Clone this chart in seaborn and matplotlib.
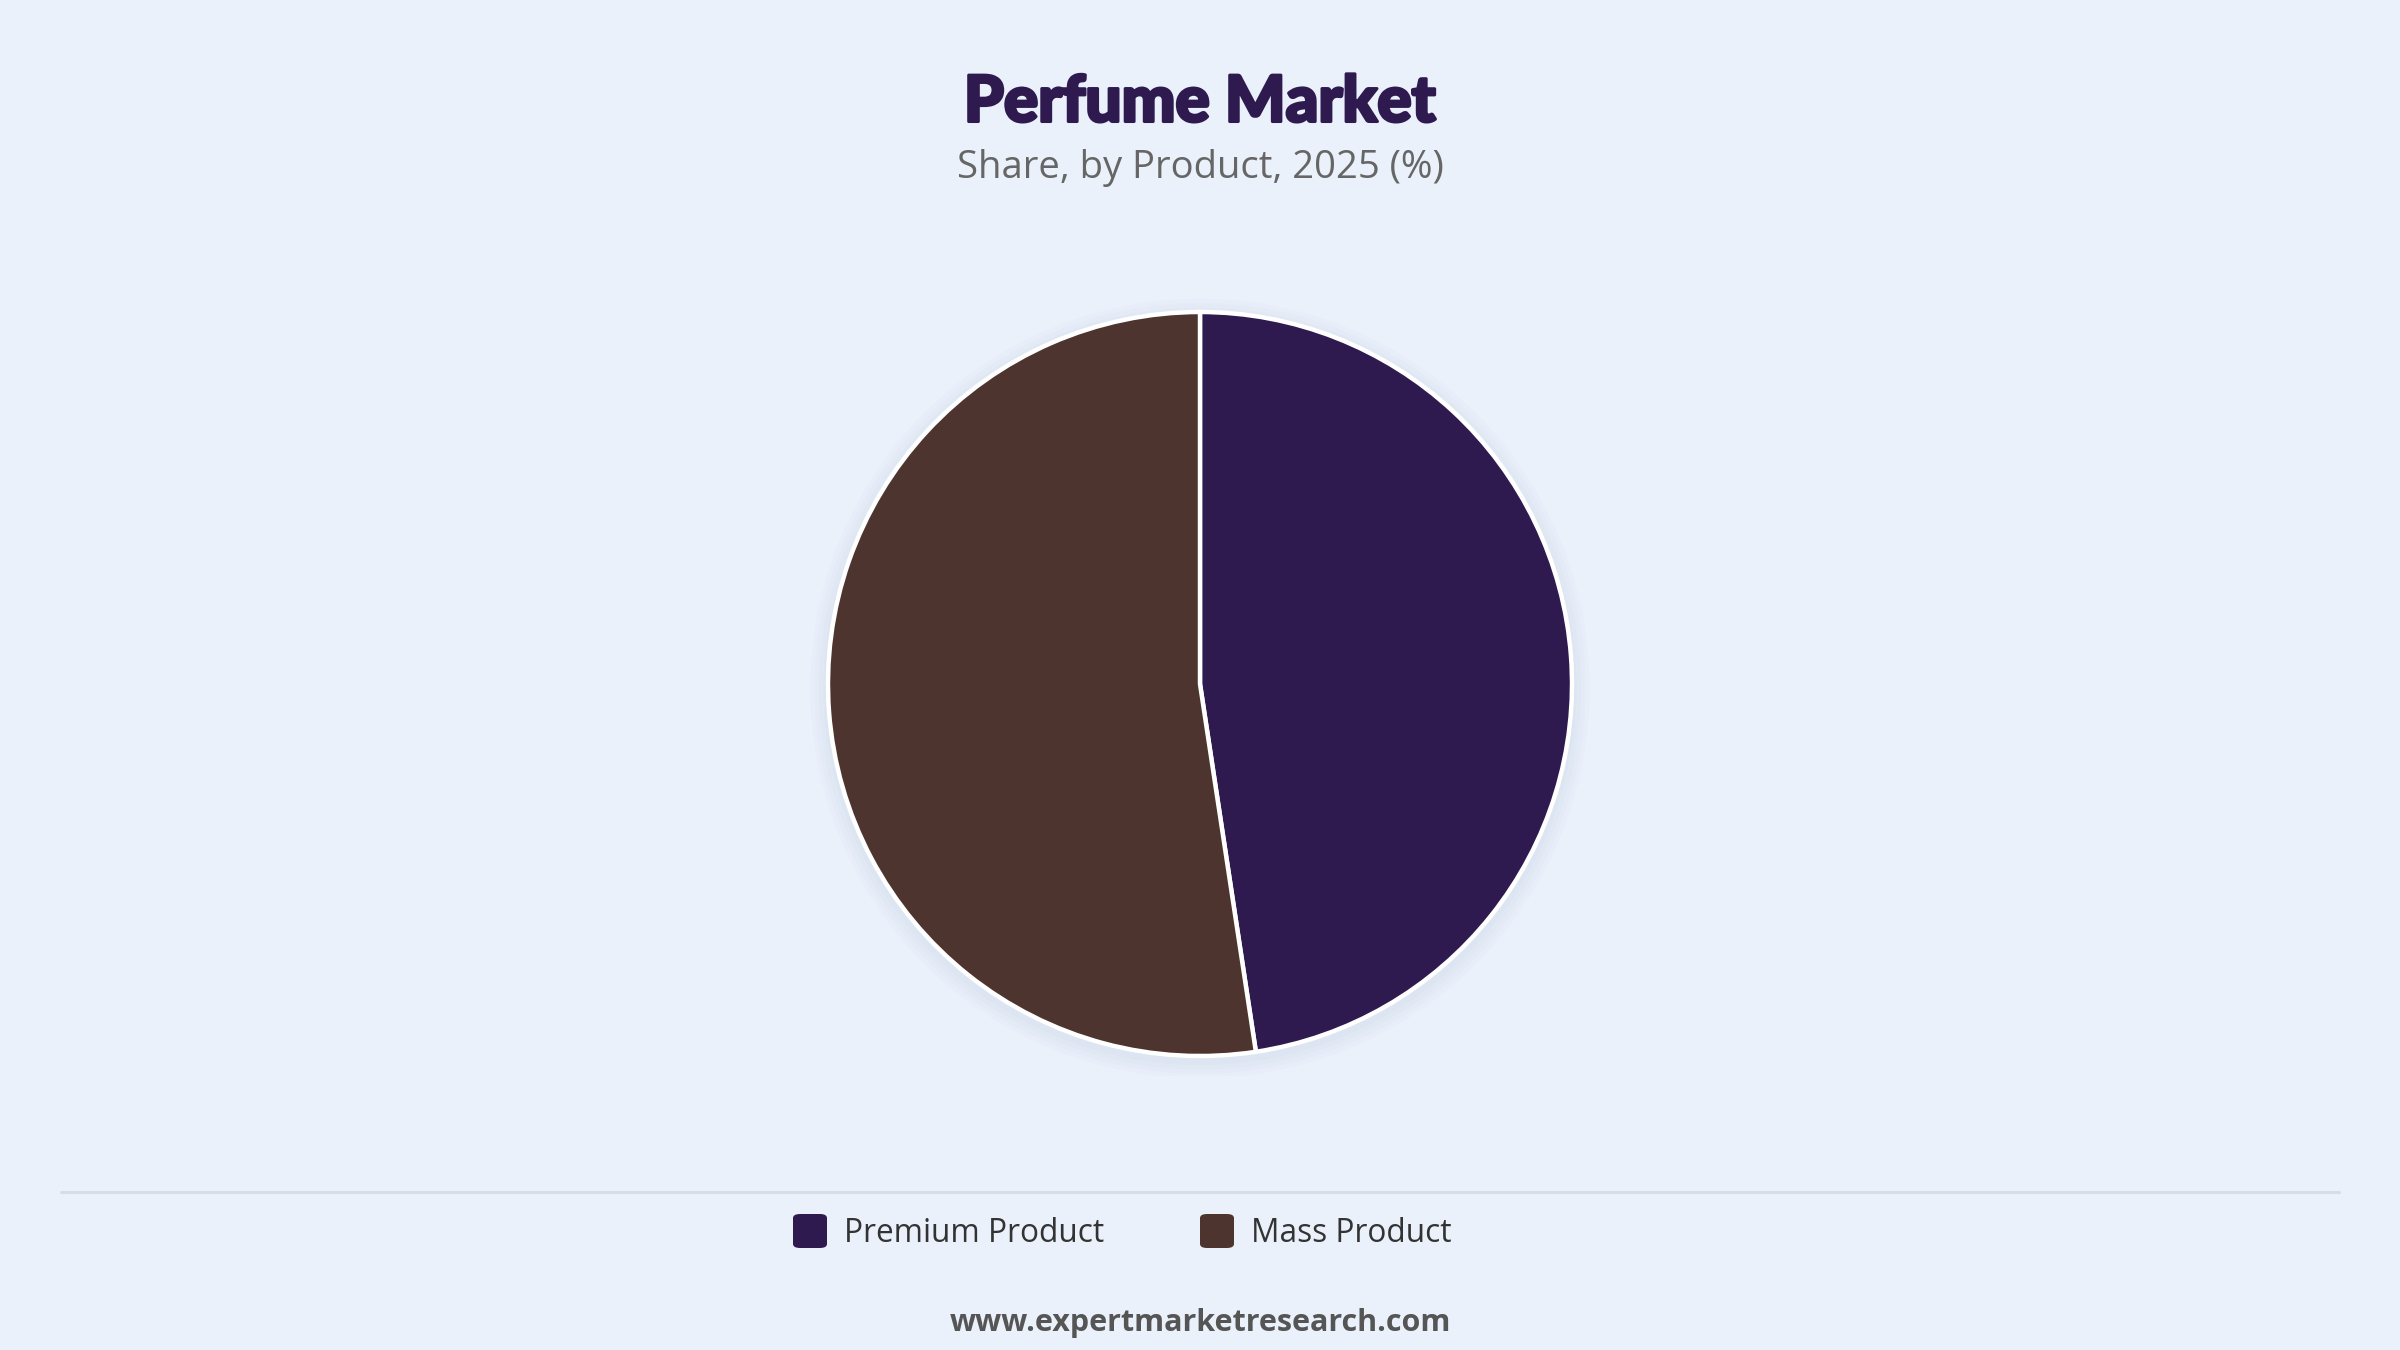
import matplotlib
matplotlib.use("Agg")
import matplotlib.pyplot as plt
import matplotlib.patheffects as pe
import seaborn as sns
from matplotlib.patches import FancyBboxPatch, Circle
from matplotlib.lines import Line2D

# chart data
products = ["Premium Product", "Mass Product"]
shares = [47.6, 52.4]
colors = ["#2E1A4F", "#4E342E"]

title = "Perfume Market"
subtitle = "Share, by Product, 2025 (%)"
footer = "www.expertmarketresearch.com"

bg = "#EAF1FB"

sns.set_theme(style="white")
plt.rcParams["font.family"] = ["Open Sans", "DejaVu Sans"]

fig = plt.figure(figsize=(24, 13.5), dpi=100, facecolor=bg)

# pie axes: centre (1200, 684) px, radius ~372 px
W, H = 2400, 1350
r = 372
cx, cy = 1200, 684
ax = fig.add_axes([(cx - r - 20) / W, (H - cy - r - 20) / H, (2 * r + 40) / W, (2 * r + 40) / H])
ax.set_facecolor(bg)
lim = (r + 20) / r

# soft shadow under the pie
for i, a in enumerate([0.025, 0.025, 0.03, 0.03]):
    ax.add_patch(Circle((0, -0.012), 1.0 + 0.012 * (4 - i), color="#8090A8", alpha=a, lw=0, zorder=0))

wedges, _ = ax.pie(shares, colors=colors, startangle=90, counterclock=False,
                   wedgeprops=dict(edgecolor="white", linewidth=3.2))
for w in wedges:
    w.set_zorder(2)
ax.set_xlim(-lim, lim)
ax.set_ylim(-lim, lim)
ax.set_aspect("equal")
ax.axis("off")

# titles (stroke to get a heavier look)
fig.text(0.5, 1 - 103 / H, title, ha="center", va="center", fontsize=46,
         fontweight=900, color="#2E1A4F", family=["Lato", "DejaVu Sans"],
         path_effects=[pe.withStroke(linewidth=2.2, foreground="#2E1A4F")])
fig.text(0.5, 1 - 168 / H, subtitle, ha="center", va="center", fontsize=27.5, color="#666666")

# separator line
fig.add_artist(Line2D([61 / W, 2339 / W], [1 - 1192 / H, 1 - 1192 / H], color="#D9DDE3", lw=2.2))

# legend
leg_y = 1 - 1231 / H
sq = 34
for x0, lab, c in zip([793, 1200], products, colors):
    fig.add_artist(FancyBboxPatch((x0 / W, leg_y - sq / 2 / H), sq / W, sq / H,
                                  boxstyle="round,pad=0,rounding_size=0.003",
                                  transform=fig.transFigure, fc=c, ec="none"))
    fig.text((x0 + sq + 17) / W, leg_y - 2 / H, lab, ha="left", va="center", fontsize=22.8, color="#333333")

fig.text(0.5, 1 - 1323 / H, footer, ha="center", va="center", fontsize=22,
         fontweight="bold", color="#555555")

fig.savefig("out.png", dpi=100, facecolor=bg)
